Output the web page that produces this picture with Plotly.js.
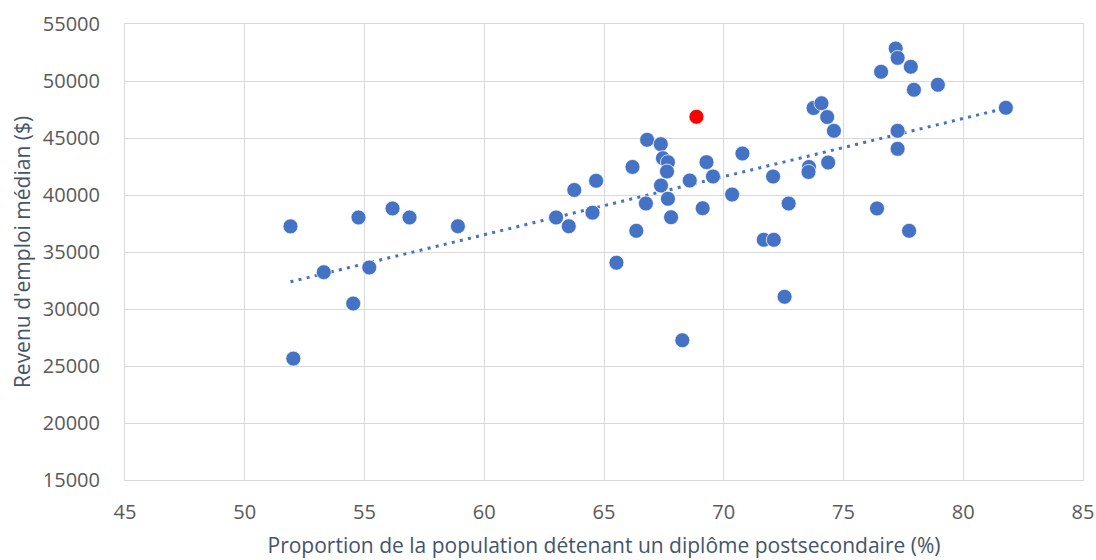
<!DOCTYPE html>
<html>
<head>
<meta charset="utf-8">
<script src="https://cdn.plot.ly/plotly-3.0.1.min.js"></script>
<style>html,body{margin:0;padding:0;background:#fff}#chart{width:1096px;height:560px}</style>
</head>
<body>
<div id="chart"></div>
<script>
// Proportion de la population détenant un diplôme postsecondaire (%)
const propDiplome = [51.91, 52.03, 53.30, 54.53, 54.75, 55.20, 56.17, 56.88, 58.90, 63.00,
  63.53, 63.76, 64.52, 64.67, 65.52, 66.19, 66.35, 66.75, 66.80, 67.37,
  67.38, 67.46, 67.67, 67.63, 67.67, 67.80, 68.27, 68.58, 69.12, 69.28,
  69.55, 70.35, 70.78, 71.67, 72.09, 72.06, 72.54, 72.71, 73.56, 73.54,
  73.75, 74.08, 74.32, 74.36, 74.60, 76.40, 76.57, 77.18, 77.26, 77.26,
  77.26, 77.74, 77.81, 77.94, 78.94, 81.78];
// Revenu d'emploi médian ($)
const revenuMedian = [37250, 25650, 33230, 30480, 38030, 33640, 38820, 38030, 37260, 38030,
  37260, 40440, 38450, 41250, 34060, 42460, 36860, 39250, 44840, 44460,
  40830, 43230, 42880, 42060, 39670, 38050, 27260, 41270, 38840, 42880,
  41620, 40040, 43640, 36070, 36070, 41620, 31070, 39250, 42460, 42020,
  47630, 48050, 46840, 42850, 45630, 38820, 50810, 52850, 52030, 45630,
  44050, 36860, 51250, 49230, 49670, 47650];
// Point mis en évidence (rouge)
const highlightX = [68.86];
const highlightY = [46860];
// Courbe de tendance linéaire (extrémités)
const trendX = [51.91, 81.78];
const trendY = [32390, 47620];

const xTickVals = [45, 50, 55, 60, 65, 70, 75, 80, 85];
const yTickVals = [15000, 20000, 25000, 30000, 35000, 40000, 45000, 50000, 55000];
const yTickText = ['15000', '20000', '25000', '30000', '35000', '40000', '45000', '50000', '55000'];

const blue = '#4472C4';
const traces = [
  {
    x: trendX, y: trendY, type: 'scatter', mode: 'lines',
    line: {color: blue, width: 3, dash: '3px,5.3px'},
    hoverinfo: 'skip', showlegend: false
  },
  {
    x: propDiplome, y: revenuMedian, type: 'scatter', mode: 'markers',
    marker: {color: blue, size: 15, line: {color: '#ffffff', width: 0.75}},
    showlegend: false
  },
  {
    x: highlightX, y: highlightY, type: 'scatter', mode: 'markers',
    marker: {color: '#FF0000', size: 15, line: {color: '#ffffff', width: 0.75}},
    showlegend: false
  }
];

const font = "'Open Sans', 'Liberation Sans', sans-serif";
const layout = {
  width: 1096, height: 560,
  margin: {l: 125, r: 13, t: 24, b: 80, pad: 0},
  paper_bgcolor: '#ffffff', plot_bgcolor: '#ffffff',
  font: {family: font, size: 20, color: '#595959'},
  xaxis: {
    range: [45, 85], tickmode: 'array', tickvals: xTickVals,
    showgrid: true, gridcolor: '#D9D9D9', gridwidth: 1,
    showline: true, mirror: true, linecolor: '#D9D9D9', linewidth: 1,
    zeroline: false, ticks: '', ticklabelstandoff: 14,
    tickfont: {family: font, size: 20, color: '#595959'},
    title: {text: 'Proportion de la population détenant un diplôme postsecondaire (%)',
      font: {family: font, size: 21, color: '#44546A'}, standoff: 14}
  },
  yaxis: {
    range: [15000, 55000], tickmode: 'array', tickvals: yTickVals, ticktext: yTickText,
    showgrid: true, gridcolor: '#D9D9D9', gridwidth: 1,
    showline: true, mirror: true, linecolor: '#D9D9D9', linewidth: 1,
    zeroline: false, ticks: '', ticklabelstandoff: 20,
    tickfont: {family: font, size: 20, color: '#595959'},
    title: {text: "Revenu d'emploi médian ($)",
      font: {family: font, size: 21, color: '#44546A'}, standoff: 6}
  },
  hovermode: 'closest'
};

Plotly.newPlot('chart', traces, layout, {displayModeBar: false, staticPlot: true});
</script>
</body>
</html>
